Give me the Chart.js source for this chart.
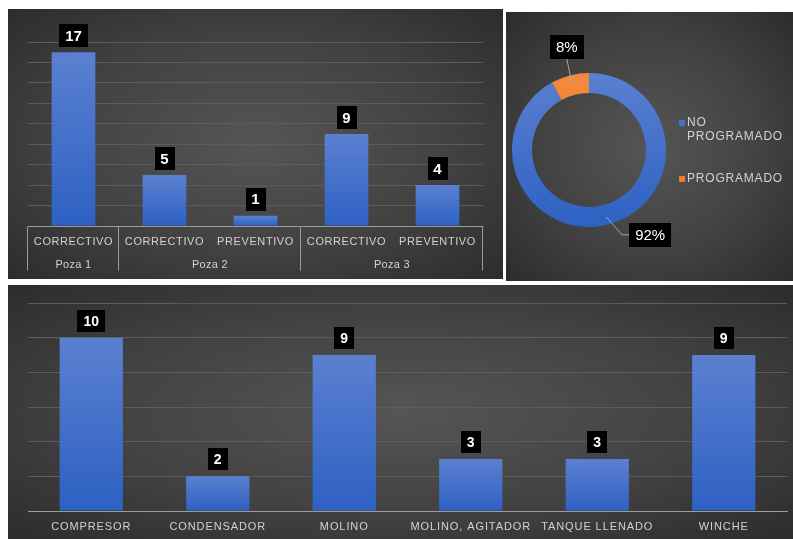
<!DOCTYPE html>
<html>
<head>
<meta charset="utf-8">
<script src="https://cdn.jsdelivr.net/npm/chart.js@4.4.1/dist/chart.umd.min.js"></script>
<style>
  body { margin: 0; background: #fff; width: 793px; height: 539px; overflow: hidden; position: relative; }
  .panel { position: absolute; background: radial-gradient(ellipse at center, #555 0%, #424242 55%, #2c2c2c 100%); }
  #p1 { left: 8px; top: 9px; width: 495px; height: 270px; }
  #p2 { left: 506px; top: 12px; width: 287px; height: 269px; }
  #p3 { left: 8px; top: 285px; width: 785px; height: 254px; }
  canvas { display: block; }
</style>
</head>
<body>
<div class="panel" id="p1"><canvas id="porPoza" width="495" height="270"></canvas></div>
<div class="panel" id="p2"><canvas id="dona" width="287" height="269"></canvas></div>
<div class="panel" id="p3"><canvas id="porEquipo" width="785" height="254"></canvas></div>
<script>
// Datos de mantenimientos por poza
const tipos = ['CORRECTIVO', 'CORRECTIVO', 'PREVENTIVO', 'CORRECTIVO', 'PREVENTIVO'];
const pozas = ['Poza 1', 'Poza 2', 'Poza 2', 'Poza 3', 'Poza 3'];
const cantidadPorTipo = [17, 5, 1, 9, 4];

// Programado / no programado (%)
const estados = ['NO PROGRAMADO', 'PROGRAMADO'];
const porcentajes = [92, 8];

// Fallas por equipo
const equipos = ['COMPRESOR', 'CONDENSADOR', 'MOLINO', 'MOLINO, AGITADOR', 'TANQUE LLENADO', 'WINCHE'];
const fallasPorEquipo = [10, 2, 9, 3, 3, 9];

Chart.defaults.font.family = '"Liberation Sans", Arial, sans-serif';
Chart.defaults.animation = false;

const gridColor = '#5c5c5c';
const textColor = '#d2d2d2';

// degradado azul por barra (claro arriba, oscuro abajo)
function degradadoBarra(context) {
    const chart = context.chart;
    if (!chart.chartArea || context.type !== 'data') return '#4472c4';
    const y = chart.scales.y;
    const top = y.getPixelForValue(context.raw);
    const bottom = y.getPixelForValue(0);
    const g = chart.ctx.createLinearGradient(0, top, 0, bottom);
    g.addColorStop(0, '#5b80d0');
    g.addColorStop(1, '#2d61c3');
    return g;
}

// etiquetas de valor con caja negra
const etiquetasValor = {
    id: 'etiquetasValor',
    afterDatasetsDraw(chart, args, o) {
        const ctx = chart.ctx;
        const meta = chart.getDatasetMeta(0);
        ctx.save();
        ctx.letterSpacing = '0px';
        ctx.font = o.font;
        ctx.textAlign = 'center';
        ctx.textBaseline = 'middle';
        meta.data.forEach((bar, i) => {
            const txt = String(chart.data.datasets[0].data[i]);
            const w = Math.round(ctx.measureText(txt).width + o.padX * 2);
            const cy = bar.y - o.gap - o.h / 2;
            ctx.fillStyle = '#000';
            ctx.fillRect(Math.round(bar.x - w / 2), Math.round(cy - o.h / 2), w, o.h);
            ctx.fillStyle = '#fff';
            ctx.fillText(txt, bar.x, cy + 1);
        });
        ctx.restore();
    }
};

// eje X agrupado (tipo / poza)
const ejeAgrupado = {
    id: 'ejeAgrupado',
    afterDraw(chart, args, o) {
        const ctx = chart.ctx;
        const x = chart.scales.x;
        const base = Math.round(chart.chartArea.bottom) + 0.5;
        const n = chart.data.labels.length;
        const edge = i => i === 0 ? x.left : i === n ? x.right : (x.getPixelForValue(i - 1) + x.getPixelForValue(i)) / 2;
        const px = v => Math.round(v) - 0.5;

        const grupos = [];
        pozas.forEach((g, i) => {
            const last = grupos[grupos.length - 1];
            if (last && last.name === g) last.end = i + 1;
            else grupos.push({ name: g, start: i, end: i + 1 });
        });

        ctx.save();
        ctx.strokeStyle = o.lineColor;
        ctx.lineWidth = 1;
        ctx.beginPath();
        ctx.moveTo(px(edge(0)), base);
        ctx.lineTo(px(edge(n)) + 1, base);
        grupos.forEach(g => {
            [g.start, g.end].forEach(i => {
                ctx.moveTo(px(edge(i)), base);
                ctx.lineTo(px(edge(i)), base + o.lineLen);
            });
        });
        ctx.stroke();

        ctx.fillStyle = textColor;
        ctx.textAlign = 'center';
        ctx.textBaseline = 'middle';
        ctx.font = '11px "Liberation Sans", Arial, sans-serif';
        ctx.letterSpacing = '0.6px';
        tipos.forEach((t, i) => ctx.fillText(t, x.getPixelForValue(i), base + o.row1));
        ctx.letterSpacing = '0.3px';
        grupos.forEach(g => ctx.fillText(g.name, (edge(g.start) + edge(g.end)) / 2, base + o.row2));
        ctx.restore();
    }
};

new Chart(document.getElementById('porPoza'), {
    type: 'bar',
    data: {
        labels: tipos.map((t, i) => pozas[i] + ' ' + t),
        datasets: [{
            data: cantidadPorTipo,
            backgroundColor: degradadoBarra,
            categoryPercentage: 1,
            barPercentage: 0.48
        }]
    },
    options: {
        responsive: false,
        layout: { padding: { left: 20, right: 20, top: 33, bottom: 53 } },
        scales: {
            x: { display: false },
            y: {
                min: 0, max: 18,
                ticks: { display: false, stepSize: 2 },
                border: { display: false },
                grid: { color: c => c.tick.value === 0 ? 'transparent' : gridColor, drawTicks: false },
                afterFit(s) { s.width = 0; }
            }
        },
        plugins: {
            legend: { display: false },
            tooltip: { enabled: false },
            etiquetasValor: { font: 'bold 15px "Liberation Sans", Arial, sans-serif', padX: 6, h: 23, gap: 5 },
            ejeAgrupado: { lineColor: '#9c9c9c', lineLen: 44, row1: 15, row2: 38 }
        }
    },
    plugins: [etiquetasValor, ejeAgrupado]
});

// Dona: etiquetas con guia y leyenda
const etiquetasDona = {
    id: 'etiquetasDona',
    afterDatasetsDraw(chart, args, o) {
        const ctx = chart.ctx;
        const meta = chart.getDatasetMeta(0);
        ctx.save();
        ctx.font = o.font;
        ctx.textAlign = 'center';
        ctx.textBaseline = 'middle';
        meta.data.forEach((arc, i) => {
            const mid = (arc.startAngle + arc.endAngle) / 2;
            const r = arc.outerRadius - 8;
            const ax = arc.x + Math.cos(mid) * r;
            const ay = arc.y + Math.sin(mid) * r;
            const lx = ax + o.offsets[i][0];
            const ly = ay + o.offsets[i][1];
            const txt = chart.data.datasets[0].data[i] + '%';
            const w = Math.round(ctx.measureText(txt).width + o.padX * 2);
            const left = Math.round(lx - w / 2), top = Math.round(ly - o.h / 2);

            ctx.strokeStyle = '#a8a8a8';
            ctx.lineWidth = 1;
            ctx.beginPath();
            ctx.moveTo(ax, ay);
            if (Math.abs(lx - ax) > Math.abs(ly - ay)) {
                const sx = lx > ax ? left : left + w;
                ctx.lineTo(sx + (lx > ax ? -7 : 7), ly);
                ctx.lineTo(sx, ly);
            } else {
                ctx.lineTo(lx, ly > ay ? top : top + o.h);
            }
            ctx.stroke();

            ctx.fillStyle = '#000';
            ctx.fillRect(left, top, w, o.h);
            ctx.fillStyle = '#fff';
            ctx.fillText(txt, lx, ly + 1);
        });
        ctx.restore();
    }
};

const leyendaDona = {
    id: 'leyendaDona',
    afterDraw(chart, args, o) {
        const ctx = chart.ctx;
        const colors = chart.data.datasets[0].legendColors;
        ctx.save();
        ctx.font = o.font;
        ctx.letterSpacing = '0.8px';
        ctx.textAlign = 'left';
        ctx.textBaseline = 'middle';
        let y = o.y;
        chart.data.labels.forEach((label, i) => {
            // partir en lineas segun ancho disponible
            const lines = [];
            label.split(' ').forEach(word => {
                const cur = lines.length ? lines[lines.length - 1] + ' ' + word : word;
                if (lines.length && ctx.measureText(cur).width <= o.maxWidth) lines[lines.length - 1] = cur;
                else lines.push(word);
            });
            ctx.fillStyle = colors[i];
            ctx.fillRect(o.x, Math.round(y - 3), 6, 6);
            ctx.fillStyle = textColor;
            lines.forEach((ln, k) => ctx.fillText(ln, o.x + 8, y + k * o.lineHeight));
            y += (lines.length - 1) * o.lineHeight + o.itemGap;
        });
        ctx.restore();
    }
};

function degradadoDona(context) {
    const chart = context.chart;
    const area = chart.chartArea;
    const base = context.dataIndex === 0 ? ['#5a80d0', '#2d61c3'] : ['#f28a3e', '#e8752a'];
    if (!area) return base[1];
    const g = chart.ctx.createLinearGradient(0, area.top, 0, area.bottom);
    g.addColorStop(0, base[0]);
    g.addColorStop(1, base[1]);
    return g;
}

new Chart(document.getElementById('dona'), {
    type: 'doughnut',
    data: {
        labels: estados,
        datasets: [{
            data: porcentajes,
            backgroundColor: degradadoDona,
            legendColors: ['#4472c4', '#ed7d31'],
            borderWidth: 0
        }]
    },
    options: {
        responsive: false,
        cutout: '74%',
        layout: { padding: { left: 6, top: 61, right: 127, bottom: 54 } },
        plugins: {
            legend: { display: false },
            tooltip: { enabled: false },
            etiquetasDona: { font: '15px "Liberation Sans", Arial, sans-serif', padX: 6, h: 24, offsets: [[44, 18], [-5, -36]] },
            leyendaDona: { font: '12px "Liberation Sans", Arial, sans-serif', x: 173, y: 111, lineHeight: 14, itemGap: 42, maxWidth: 104 }
        }
    },
    plugins: [etiquetasDona, leyendaDona]
});

// espaciado de letras para las etiquetas del eje
const espaciado = {
    id: 'espaciado',
    beforeDraw(chart) { chart.ctx.letterSpacing = '0.9px'; }
};

new Chart(document.getElementById('porEquipo'), {
    type: 'bar',
    data: {
        labels: equipos,
        datasets: [{
            data: fallasPorEquipo,
            backgroundColor: degradadoBarra,
            categoryPercentage: 1,
            barPercentage: 0.5
        }]
    },
    options: {
        responsive: false,
        layout: { padding: { left: 20, right: 6, top: 18, bottom: 0 } },
        scales: {
            x: {
                grid: { display: false, drawTicks: false },
                border: { display: true, color: '#9c9c9c', width: 1 },
                ticks: { color: textColor, font: { size: 11 }, padding: 9, maxRotation: 0, autoSkip: false },
                afterFit(s) { s.height = 28; }
            },
            y: {
                min: 0, max: 12,
                ticks: { display: false, stepSize: 2 },
                border: { display: false },
                grid: { color: c => c.tick.value === 0 ? 'transparent' : gridColor, drawTicks: false },
                afterFit(s) { s.width = 0; }
            }
        },
        plugins: {
            legend: { display: false },
            tooltip: { enabled: false },
            etiquetasValor: { font: 'bold 14px "Liberation Sans", Arial, sans-serif', padX: 6, h: 22, gap: 6 }
        }
    },
    plugins: [espaciado, etiquetasValor]
});
</script>
</body>
</html>
